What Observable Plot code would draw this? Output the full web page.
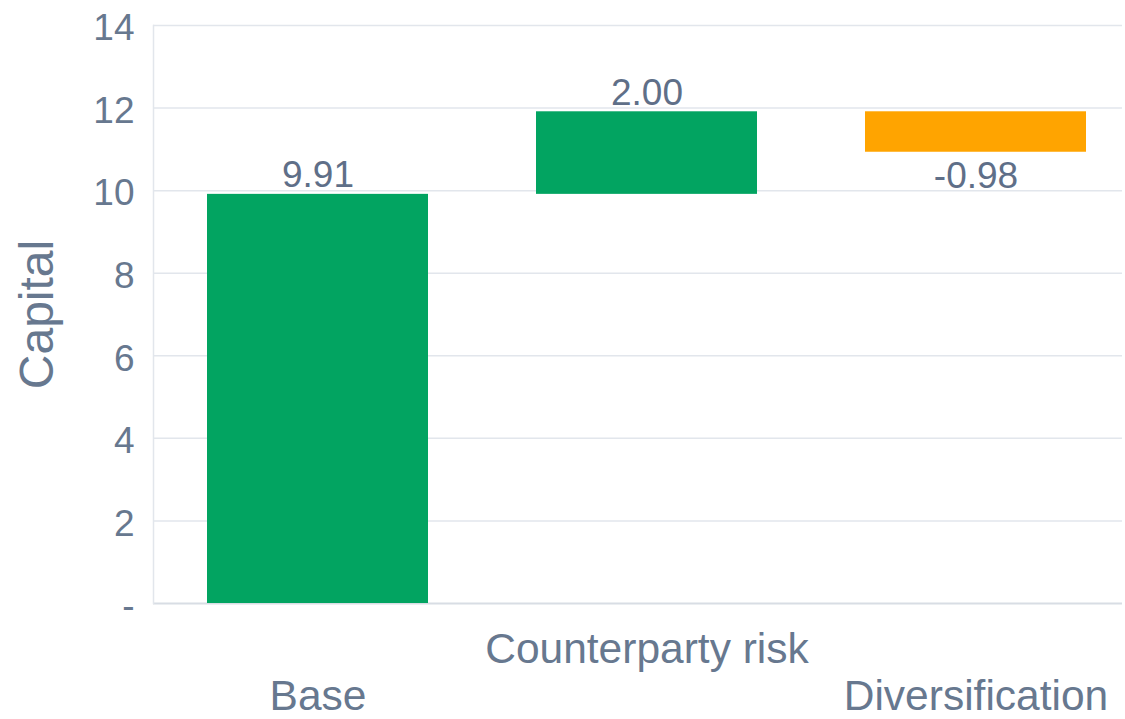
<!DOCTYPE html>
<html>
<head>
<meta charset="utf-8">
<script src="https://cdn.jsdelivr.net/npm/d3@7"></script>
<script src="https://cdn.jsdelivr.net/npm/@observablehq/plot@0.6"></script>
<style>
  html, body { margin: 0; padding: 0; background: #fff; }
  #chart svg { font-family: "Liberation Sans", Arial, sans-serif; }
</style>
</head>
<body>
<div id="chart"></div>
<script>
// Waterfall of capital contributions
const categories = ["Base", "Counterparty risk", "Diversification"];
const changes = [9.91, 2.00, -0.98];
const yTicks = [0, 2, 4, 6, 8, 10, 12, 14];

// Running totals give each step its start and end
let running = 0;
const steps = categories.map((name, i) => {
  const start = running;
  running += changes[i];
  return { name, value: changes[i], start, end: running };
});

const textColor = "#67788f";
const gridColor = "#e2e6ec";

const chart = Plot.plot({
  width: 1125,
  height: 719,
  marginLeft: 153,
  marginRight: 3,
  marginTop: 25,
  marginBottom: 116,
  x: {
    type: "band",
    domain: categories,
    range: [153, 1140],
    paddingInner: 0.328,
    paddingOuter: 0.164,
    axis: null
  },
  y: { domain: [0, 14], axis: null },
  marks: [
    Plot.ruleY(yTicks.filter(d => d > 0), { stroke: gridColor, strokeWidth: 1.5 }),
    Plot.ruleY([0], { stroke: "#d8dde4", strokeWidth: 2 }),
    Plot.frame({ anchor: "left", stroke: gridColor, strokeWidth: 1.5 }),
    Plot.barY(steps, {
      x: "name",
      y1: "start",
      y2: "end",
      fill: d => (d.value < 0 ? "#ffa400" : "#02a461")
    }),
    // value labels: above rising steps, below falling ones
    Plot.text(steps.filter(d => d.value >= 0), {
      x: "name",
      y: "end",
      text: d => d.value.toFixed(2),
      lineAnchor: "bottom",
      dy: -7,
      fontSize: 37,
      fill: "#5f6f88"
    }),
    Plot.text(steps.filter(d => d.value < 0), {
      x: "name",
      y: "end",
      text: d => d.value.toFixed(2),
      lineAnchor: "top",
      dy: 9,
      fontSize: 37,
      fill: "#5f6f88"
    }),
    Plot.axisY(yTicks, {
      tickSize: 0,
      tickPadding: 19,
      fontSize: 37,
      dy: 3,
      fill: textColor,
      tickFormat: d => (d === 0 ? "-" : String(d)),
      label: null
    }),
    // staggered category labels
    Plot.axisX(["Counterparty risk"], {
      tickSize: 0,
      tickPadding: 29,
      fontSize: 42.5,
      fill: textColor,
      label: null
    }),
    Plot.axisX(["Base", "Diversification"], {
      tickSize: 0,
      tickPadding: 76,
      fontSize: 42.5,
      fill: textColor,
      label: null
    }),
    Plot.text(["Capital"], {
      frameAnchor: "left",
      textAnchor: "middle",
      rotate: -90,
      dx: -116,
      fontSize: 48,
      fill: textColor
    })
  ]
});

document.getElementById("chart").appendChild(chart);
</script>
</body>
</html>
